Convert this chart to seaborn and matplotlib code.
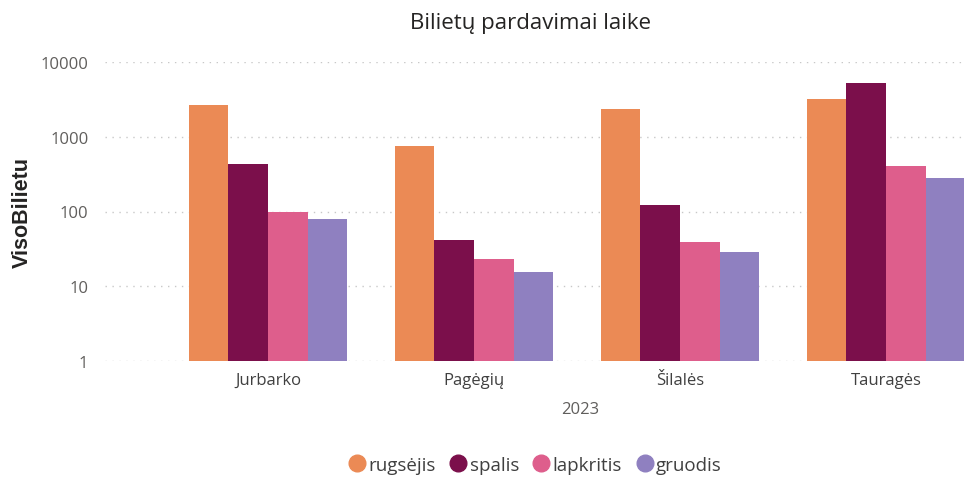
import pandas as pd
import seaborn as sns
import matplotlib.pyplot as plt

#chart data
regions = ['Jurbarko', 'Pagėgių', 'Šilalės', 'Tauragės']
months = ['rugsėjis', 'spalis', 'lapkritis', 'gruodis']
rugsejis = [2630, 745, 2350, 3170]
spalis = [427, 42, 122, 5190]
lapkritis = [98, 23, 39, 410]
gruodis = [80, 15.5, 29, 281]
colors = ['#EB8A55', '#7B0F4B', '#DE5E8C', '#8F80C0']

#long format table for seaborn
rows = []
for m, vals in zip(months, [rugsejis, spalis, lapkritis, gruodis]):
    for r, v in zip(regions, vals):
        rows.append({'Region': r, 'Month': m, 'VisoBilietu': v})
df = pd.DataFrame(rows)

sns.set_style('white')
plt.rcParams['font.family'] = ['Open Sans', 'DejaVu Sans']

fig = plt.figure(figsize = (9.64, 4.81), dpi = 100)
ax = fig.add_axes([105 / 964, 119 / 481, 1 - 105 / 964, 299 / 481])

sns.barplot(data = df, x = 'Region', y = 'VisoBilietu', hue = 'Month', order = regions,
            hue_order = months, palette = colors, width = 0.77, saturation = 1,
            linewidth = 0, ax = ax, legend = False)

ax.set_yscale('log')
ax.set_ylim(1, 10000)
ax.set_xlim(-0.791, 3.379)
ax.set_yticks([1, 10, 100, 1000, 10000])
ax.set_yticklabels(['1', '10', '100', '1000', '10000'])
ax.minorticks_off()
ax.yaxis.grid(True, linestyle = (0, (1, 4)), color = '#c8c8c8', linewidth = 1)
ax.set_axisbelow(True)
for s in ax.spines.values():
    s.set_visible(False)
ax.tick_params(axis = 'y', labelsize = 12, colors = '#605E5C', length = 0, pad = 12)
ax.tick_params(axis = 'x', labelsize = 12, colors = '#404040', length = 0, pad = 8)
ax.set_xlabel('')
ax.set_ylabel('')

fig.text(22 / 964, 1 - 212 / 481, 'VisoBilietu', rotation = 90, fontsize = 15.5,
         ha = 'center', va = 'center', color = '#252423', family = ['Liberation Sans', 'DejaVu Sans'],
         fontweight = 'bold')
fig.text(580 / 964, 1 - 410 / 481, '2023', fontsize = 12, ha = 'center', va = 'center', color = '#605E5C')
fig.text(530 / 964, 1 - 24 / 481, 'Bilietų pardavimai laike', fontsize = 16,
         ha = 'center', va = 'center', color = '#252423')

#legend with circle markers
handles = [plt.Line2D([], [], marker = 'o', linestyle = '', markersize = 12,
                      markerfacecolor = c, markeredgecolor = c) for c in colors]
fig.legend(handles, months, loc = 'center', bbox_to_anchor = (530 / 964, 1 - 466 / 481),
           ncol = 4, frameon = False, fontsize = 13.5, handletextpad = -0.4, columnspacing = 0.2,
           labelcolor = '#404040')

fig.savefig('out.png', dpi = 100)
